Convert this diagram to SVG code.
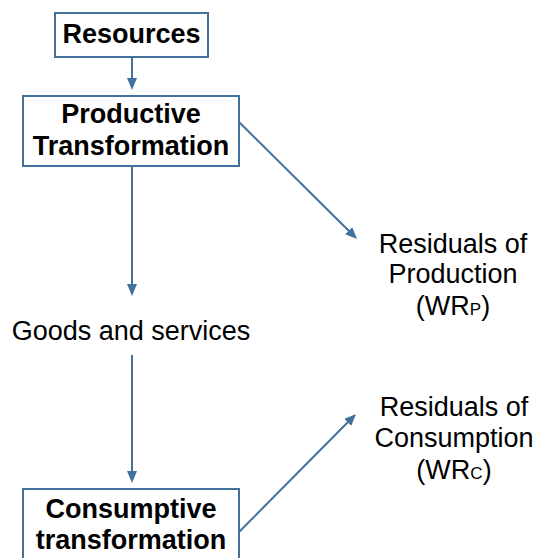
<svg xmlns="http://www.w3.org/2000/svg" width="534" height="558" viewBox="0 0 534 558">
  <defs>
    <style>
      .box { fill: #ffffff; stroke: #41719C; stroke-width: 2; }
      .conn { fill: none; stroke: #41719C; stroke-width: 2; }
      .bold { font-family: "Liberation Sans", Arial, sans-serif; font-weight: bold; font-size: 27px; fill: #000000; text-anchor: middle; }
      .reg { font-family: "Liberation Sans", Arial, sans-serif; font-size: 27px; fill: #000000; text-anchor: middle; }
      .sub { font-size: 17px; }
    </style>
    <marker id="arrow" markerUnits="userSpaceOnUse" markerWidth="12" markerHeight="10" refX="2" refY="5" orient="auto">
      <path d="M0,0 L12,5 L0,10 z" fill="#41719C"/>
    </marker>
  </defs>
  <rect width="534" height="558" fill="#ffffff"/>

  <g id="connectors">
    <line class="conn" x1="132" y1="57" x2="132" y2="80" marker-end="url(#arrow)"/>
    <line class="conn" x1="132" y1="166" x2="132" y2="286" marker-end="url(#arrow)"/>
    <line class="conn" x1="132" y1="355" x2="132" y2="473" marker-end="url(#arrow)"/>
    <line class="conn" x1="239" y1="122" x2="350" y2="232" marker-end="url(#arrow)"/>
    <line class="conn" x1="239" y1="532" x2="349" y2="421" marker-end="url(#arrow)"/>
  </g>

  <g id="resources">
    <rect class="box" x="55" y="13" width="153" height="44"/>
    <text class="bold" x="131.5" y="43">Resources</text>
  </g>

  <g id="productive">
    <rect class="box" x="23" y="96" width="216" height="70"/>
    <text class="bold" x="131" y="123">Productive</text>
    <text class="bold" x="131" y="155">Transformation</text>
  </g>

  <g id="goods">
    <text class="reg" x="131" y="340">Goods and services</text>
  </g>

  <g id="consumptive">
    <rect class="box" x="23" y="489" width="216" height="90"/>
    <text class="bold" x="131" y="518">Consumptive</text>
    <text class="bold" x="131" y="549">transformation</text>
  </g>

  <g id="residuals-production">
    <text class="reg" x="453" y="253">Residuals of</text>
    <text class="reg" x="453" y="283">Production</text>
    <text class="reg" x="453" y="315">(WR<tspan class="sub">P</tspan>)</text>
  </g>

  <g id="residuals-consumption">
    <text class="reg" x="454" y="416">Residuals of</text>
    <text class="reg" x="454" y="447">Consumption</text>
    <text class="reg" x="454" y="479">(WR<tspan class="sub">C</tspan>)</text>
  </g>
</svg>
